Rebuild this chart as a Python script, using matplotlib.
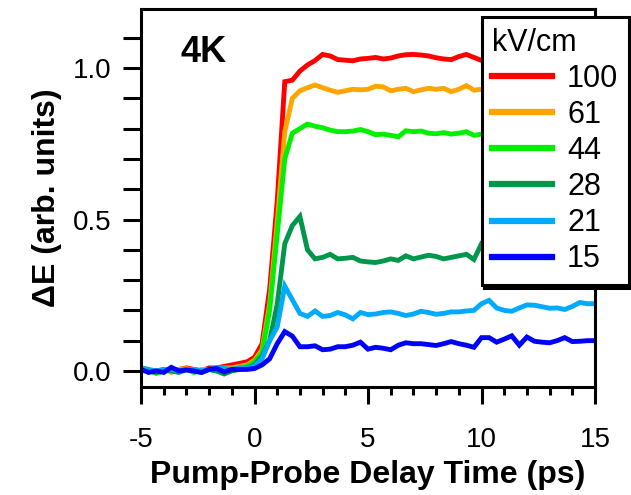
import numpy as np
import matplotlib
matplotlib.use("Agg")
import matplotlib.pyplot as plt
from matplotlib.ticker import MultipleLocator, FormatStrFormatter, FuncFormatter

plt.rcParams['font.family'] = ['Liberation Sans', 'DejaVu Sans']

# delay time sampling grid (ps)
time = np.linspace(-5, 15, 61)

field_labels = ['100', '61', '44', '28', '21', '15']
colors = ['#ff0000', '#ffa500', '#00f000', '#00964b', '#00aaff', '#0000ff']

# values (lines for 100/61/44/28 stop at 10 ps)
e100 = [0.010, 0.000, -0.005, 0.005, 0.000, 0.005, 0.010, 0.005, 0.000, 0.010,
        0.010, 0.015, 0.020, 0.025, 0.030, 0.045, 0.090, 0.270, 0.560, 0.955,
        0.960, 0.990, 1.010, 1.025, 1.045, 1.040, 1.028, 1.026, 1.024, 1.030,
        1.032, 1.035, 1.030, 1.033, 1.040, 1.044, 1.045, 1.043, 1.040, 1.034,
        1.030, 1.028, 1.038, 1.045, 1.035, 1.025]
e61 = [0.005, 0.000, 0.000, 0.005, -0.005, 0.005, 0.008, 0.000, 0.005, 0.005,
       0.008, 0.010, 0.010, 0.015, 0.020, 0.035, 0.070, 0.220, 0.490, 0.790,
       0.900, 0.925, 0.935, 0.944, 0.935, 0.927, 0.920, 0.925, 0.930, 0.928,
       0.930, 0.940, 0.938, 0.925, 0.930, 0.933, 0.922, 0.928, 0.933, 0.930,
       0.933, 0.922, 0.930, 0.942, 0.927, 0.930]
e44 = [0.010, 0.005, -0.008, 0.000, 0.005, 0.000, 0.005, -0.005, 0.000, 0.005,
       0.000, -0.008, 0.005, 0.010, 0.015, 0.030, 0.060, 0.200, 0.450, 0.700,
       0.785, 0.800, 0.815, 0.808, 0.803, 0.795, 0.790, 0.790, 0.792, 0.797,
       0.790, 0.780, 0.782, 0.778, 0.773, 0.793, 0.790, 0.792, 0.785, 0.783,
       0.787, 0.782, 0.785, 0.790, 0.778, 0.782]
e28 = [0.005, 0.000, -0.005, 0.005, 0.000, -0.005, 0.005, 0.000, -0.005, 0.005,
       0.000, -0.010, 0.000, 0.005, 0.010, 0.020, 0.050, 0.100, 0.220, 0.420,
       0.480, 0.510, 0.400, 0.370, 0.375, 0.385, 0.370, 0.372, 0.375, 0.363,
       0.360, 0.358, 0.363, 0.370, 0.365, 0.380, 0.370, 0.376, 0.382, 0.378,
       0.370, 0.375, 0.380, 0.385, 0.368, 0.420]
e21 = [0.010, 0.005, 0.000, 0.005, 0.005, 0.000, 0.005, 0.005, 0.000, 0.005,
       0.010, 0.008, 0.005, 0.010, 0.010, 0.015, 0.040, 0.100, 0.145, 0.280,
       0.235, 0.190, 0.180, 0.198, 0.180, 0.183, 0.193, 0.185, 0.172, 0.193,
       0.186, 0.188, 0.193, 0.195, 0.190, 0.183, 0.188, 0.197, 0.193, 0.187,
       0.190, 0.195, 0.195, 0.198, 0.200, 0.222, 0.233, 0.208, 0.200, 0.197,
       0.208, 0.218, 0.217, 0.212, 0.207, 0.208, 0.203, 0.213, 0.226, 0.222,
       0.222]
e15 = [0.005, -0.005, 0.000, -0.005, 0.012, 0.000, 0.003, 0.000, -0.005, 0.005,
       0.008, -0.003, 0.005, 0.005, 0.005, 0.008, 0.020, 0.040, 0.090, 0.130,
       0.115, 0.080, 0.080, 0.083, 0.070, 0.072, 0.080, 0.080, 0.085, 0.095,
       0.072, 0.078, 0.075, 0.070, 0.085, 0.093, 0.090, 0.090, 0.087, 0.084,
       0.090, 0.097, 0.090, 0.085, 0.078, 0.110, 0.110, 0.095, 0.105, 0.116,
       0.085, 0.112, 0.098, 0.095, 0.093, 0.100, 0.110, 0.097, 0.098, 0.100,
       0.100]
series = [e100, e61, e44, e28, e21, e15]

fig = plt.figure(figsize=(6.31, 4.95), dpi=100)
ax = fig.add_axes([141 / 631, 1 - 387 / 495, 454 / 631, 378 / 495])

for vals, col, lab in zip(series, colors, field_labels):
    ax.plot(time[:len(vals)], vals, color=col, lw=3.5, label=lab,
            solid_joinstyle='miter')

ax.set_xlim(-5, 15)
ax.set_ylim(-0.053, 1.195)
ax.xaxis.set_major_locator(MultipleLocator(5))
ax.xaxis.set_minor_locator(MultipleLocator(1))
ax.yaxis.set_major_locator(MultipleLocator(0.5))
ax.yaxis.set_minor_locator(MultipleLocator(0.1))
for s in ax.spines.values():
    s.set_linewidth(2.2)
ax.tick_params(which='both', direction='out', width=2.2, top=False, right=False)
ax.tick_params(axis='x', which='major', length=12, pad=17, labelsize=20)
ax.tick_params(axis='x', which='minor', length=6)
ax.tick_params(axis='y', which='major', length=13, pad=8, labelsize=20)
ax.tick_params(axis='y', which='minor', length=13)
ax.yaxis.set_major_formatter(FormatStrFormatter('%.1f'))
ax.xaxis.set_major_formatter(FuncFormatter(lambda v, p: '%d' % v))

ax.set_xlabel('Pump-Probe Delay Time (ps)', fontsize=23, fontweight='bold', labelpad=5)
ax.set_ylabel('ΔE (arb. units)', fontsize=23, fontweight='bold', labelpad=8)

ax.text(0.088, 0.886, '4K', transform=ax.transAxes, fontsize=26,
        fontweight='bold', va='center', ha='left')

leg = ax.legend(loc='upper right', bbox_to_anchor=(629 / 631, 1 - 17 / 495),
                bbox_transform=fig.transFigure, title='kV/cm', fontsize=22,
                title_fontsize=22, alignment='left', frameon=True, fancybox=False,
                framealpha=1, edgecolor='black', borderpad=0.35, labelspacing=0.2,
                handlelength=1.95, handletextpad=0.5, borderaxespad=0,
                shadow={'color': 'black', 'alpha': 1})
leg.get_frame().set_linewidth(2.2)
for h in leg.legend_handles:
    h.set_linewidth(4.5)

fig.savefig('out.png', dpi=100)
